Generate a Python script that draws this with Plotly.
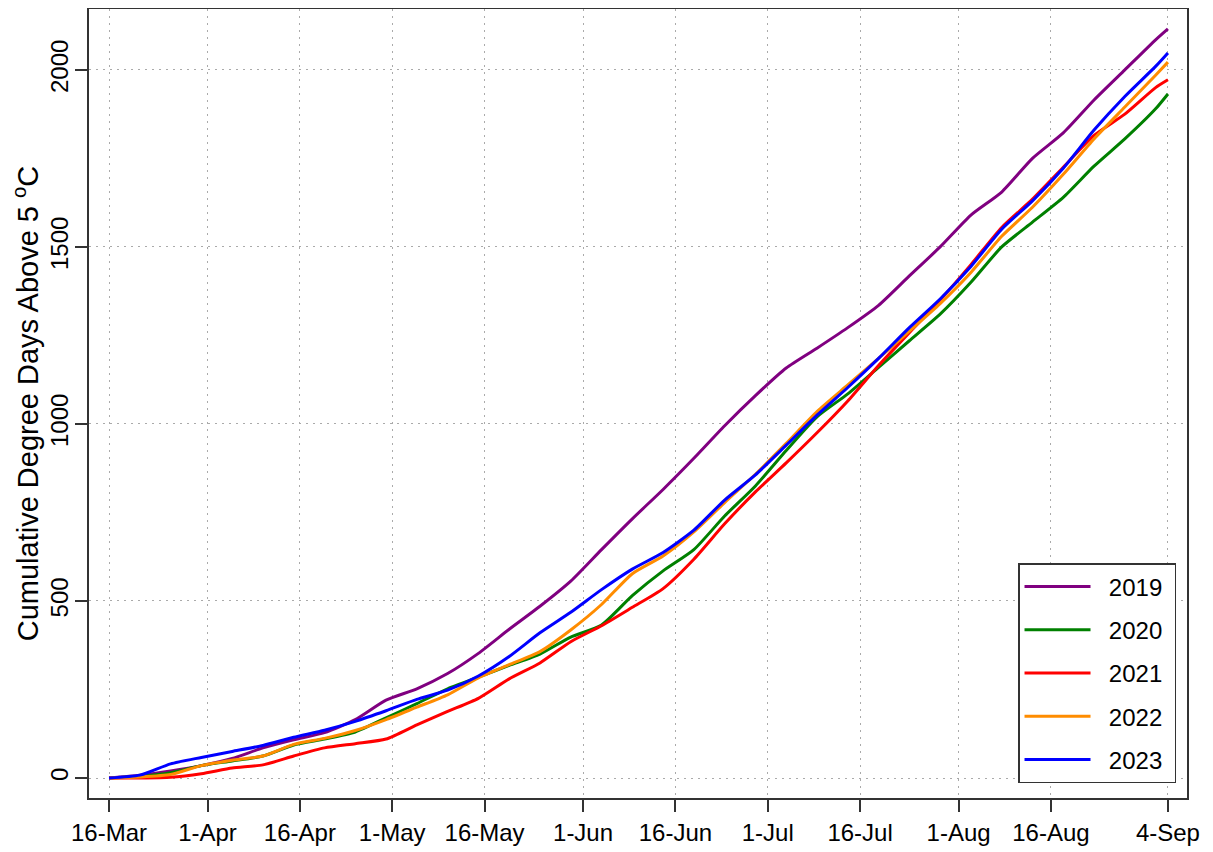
import plotly.graph_objects as go

# Days since 16-Mar
days = [0, 5, 10, 15, 20, 25, 30, 35, 40, 45, 50, 55, 60, 65, 70, 75, 80, 85,
        90, 95, 100, 105, 110, 115, 120, 125, 130, 135, 140, 145, 150, 155,
        160, 165, 170, 172]

gdd_2019 = [0, 8, 20, 35, 55, 85, 108, 128, 165, 220, 252, 295, 352, 420, 485,
            556, 645, 732, 815, 903, 995, 1080, 1158, 1214, 1272, 1335, 1418,
            1500, 1590, 1655, 1750, 1822, 1915, 2000, 2085, 2116]
gdd_2020 = [0, 5, 15, 35, 48, 62, 93, 110, 130, 170, 210, 252, 285, 318, 350,
            398, 432, 515, 585, 645, 740, 825, 925, 1020, 1085, 1160, 1235,
            1310, 1400, 1500, 1570, 1640, 1728, 1805, 1890, 1932]
gdd_2021 = [0, 0, 2, 12, 28, 37, 62, 85, 97, 110, 150, 188, 225, 280, 325,
            385, 430, 482, 535, 618, 718, 808, 890, 975, 1065, 1165, 1258,
            1350, 1450, 1555, 1635, 1725, 1815, 1875, 1950, 1972]
gdd_2022 = [0, 3, 10, 35, 50, 62, 95, 112, 134, 165, 200, 235, 283, 320, 357,
            418, 490, 577, 627, 695, 778, 858, 945, 1035, 1110, 1185, 1262,
            1340, 1428, 1530, 1612, 1705, 1805, 1895, 1985, 2022]
gdd_2023 = [0, 8, 40, 58, 75, 92, 115, 135, 160, 190, 222, 248, 288, 343, 410,
            468, 532, 590, 637, 700, 785, 856, 940, 1025, 1103, 1185, 1272,
            1353, 1445, 1550, 1630, 1722, 1830, 1925, 2010, 2048]

years = ["2019", "2020", "2021", "2022", "2023"]
series = [gdd_2019, gdd_2020, gdd_2021, gdd_2022, gdd_2023]
colors = ["#800080", "#008000", "#FF0000", "#FF8C00", "#0000FF"]

tick_days = [0, 16, 31, 46, 61, 77, 92, 107, 122, 138, 153, 172]
tick_labels = ["16-Mar", "1-Apr", "16-Apr", "1-May", "16-May", "1-Jun",
               "16-Jun", "1-Jul", "16-Jul", "1-Aug", "16-Aug", "4-Sep"]
y_ticks = [0, 500, 1000, 1500, 2000]

FONT = "Liberation Sans, Arial, sans-serif"
NB = "\u00a0"

fig = go.Figure()
for yr, vals, col in zip(years, series, colors):
    fig.add_trace(go.Scatter(
        x=days, y=vals, mode="lines", name=NB * 2 + yr + NB, legendgroup=yr,
        line=dict(color=col, width=3, shape="spline", smoothing=0.6),
    ))

# page body has an 8px margin; compensate so the plot box lands where the reference has it
fig.update_layout(
    width=1213, height=852,
    margin=dict(l=81, r=34, t=1, b=62, autoexpand=False),
    plot_bgcolor="white", paper_bgcolor="white",
    font=dict(family=FONT, size=24, color="black"),
    showlegend=True,
    legend=dict(
        x=0.990, y=0.019, xanchor="right", yanchor="bottom",
        bgcolor="white", bordercolor="#333333", borderwidth=1.5,
        font=dict(size=24), tracegroupgap=9, itemwidth=66,
    ),
)
grid_dash = "2px,5px"
fig.update_xaxes(
    range=[-3.25, 175.1], tickmode="array", tickvals=tick_days,
    ticktext=tick_labels, ticks="outside", ticklen=12, tickwidth=2,
    tickcolor="#333333", showline=True, linecolor="#333333", linewidth=2,
    mirror=True, showgrid=True, gridcolor="#aaaaaa", griddash=grid_dash,
    gridwidth=1.2, zeroline=False, tickfont=dict(size=24),
)
fig.update_yaxes(
    range=[-56.5, 2172], tickmode="array", tickvals=y_ticks,
    ticks="outside", ticklen=12, tickwidth=2, tickcolor="#333333",
    showline=True, linecolor="#333333", linewidth=2, mirror=True,
    showgrid=True, gridcolor="#aaaaaa", griddash=grid_dash, gridwidth=1.2,
    zeroline=False, tickangle=-90, tickfont=dict(size=24),
    ticklabelstandoff=-3,
    title=dict(text="Cumulative Degree Days Above 5 <sup>o</sup>C",
               font=dict(size=29), standoff=8),
)

fig.write_html("out.html")
